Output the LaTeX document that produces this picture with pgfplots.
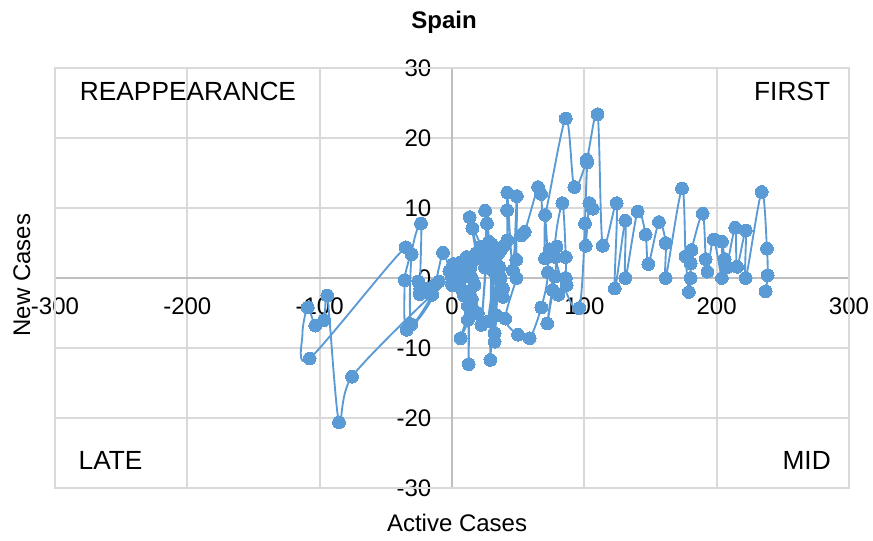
\documentclass[border=0pt]{standalone}
\usepackage{pgfplots}
\pgfplotsset{compat=1.18}
\usepackage{fontspec}
\setmainfont{Liberation Sans}
\definecolor{ser}{HTML}{5B9BD5}
\definecolor{gr}{HTML}{D9D9D9}
\definecolor{ax}{HTML}{BFBFBF}
\pgfplotsset{
  layers/mylayers/.define layer set={axis background,axis grid,axis ticks,axis lines,main,axis tick labels,axis descriptions,axis foreground}{},
  myplot/.style={color=ser,line width=1.4pt,smooth,tension=0.5,mark=*,mark size=4.8pt,mark options={fill=ser,draw=ser,line width=0pt}},
}
\pgfplotstableread{
x y
0 0
2 1
4 -1
1 2
5 0.5
8 1.5
3 -0.5
6 2.2
10 0.5
7 -1.5
9 -2.5
11 3
14 1.5
12 -2
15 0
13 -3
16 2.5
12 -4
14 -5.3
6.5 -8.6
12 -6
12.6 -12.3
13 -4
15 -3
16 -5
19.6 -5
17 -1
18 3.5
13.4 8.7
20 3
15.4 7.1
22 4.5
25 1.5
22.2 -6.7
26 3
25 9.6
27 2
26.4 7.8
30 2.5
28 5.2
31 1
29 -11.7
30 4.8
32.2 -9.1
33 3
32.2 -7.9
33.5 -5.3
35 3.5
27.2 -6.2
36 1.5
36.8 0
38.5 -1.5
38.5 -2.7
37 4
39.8 4.7
41.8 5.4
41.6 9.7
41.8 12.2
46 1.1
49 11.7
48.6 2.6
48.6 0
40.3 -5.8
49.9 -8.1
58.7 -8.6
67.5 -4.2
72.5 0.8
70.3 9
70.3 2.8
74 4.1
79 4.5
77.8 0.2
72 -6.5
76 -1.7
80.4 -2.4
86.6 -1
86 0
86 3
83.4 10.7
78 3
96.2 -4.3
102 16.5
100.5 7.8
101 4.6
103.8 10.7
106.3 9.9
}\maindata
\pgfplotstableread{
x y
52.5 6.1
55 6.6
65 13
67.3 12
70.3 9
86 22.8
92.4 13
101.8 16.9
110 23.4
113.9 4.6
124.4 10.7
123 -1.5
131 8.2
131 0
140.3 9.5
146.3 6.2
148.4 2
156.4 8
161.5 5
161.5 0
173.8 12.8
176.5 3.1
179 -2
180.4 0
180.4 2.1
181 4
189.4 9.2
191.7 2.7
193 0.9
197.7 5.5
204 0
204 5.2
206 2.7
207.5 1.5
214 7.2
215.4 1.6
222 6.8
222 0
234 12.3
238 4.2
238.5 0.4
237 -1.9
}\rightdata
\pgfplotstableread{
x y
-2 1
-6.8 3.6
-13 -1
-18 -1.5
-25.4 -0.5
-24.4 -2.3
-15 -2.4
-34.3 -7.4
-35.8 -0.3
-35 4.4
-107.6 -11.5
-113 -8
-109 -4.2
-103.3 -6.8
-96.7 -6
-94.2 -2.5
-85.4 -20.6
-75.6 -14.1
-15 -2.4
-30.7 -6.6
-30.5 3.4
-23.4 7.8
-24 -1.5
-20 -2
-10 -0.5
0 -1
}\leftdata
\begin{document}
\begin{tikzpicture}
\begin{axis}[
  at={(0pt,0pt)},anchor=south west,
  scale only axis,width=595.5pt,height=315pt,
  xmin=-300,xmax=300,ymin=-30,ymax=30,
  set layers=mylayers,
  axis lines=center,
  axis line style={draw=ax,line width=1.3pt,-},
  xtick={-300,-200,-100,0,100,200,300},
  ytick={-30,-20,-10,0,10,20,30},
  hide obscured x ticks=false,hide obscured y ticks=false,
  major tick length=0pt,
  grid=major,
  major grid style={draw=gr,line width=1.3pt},
  /pgf/number format/assume math mode=true,
  tick label style={font=\fontsize{18}{20}\selectfont,text=black},
  xticklabel style={yshift=-11pt},
  yticklabel style={xshift=-12pt},
  clip=false,
]
\draw[gr,line width=1.3pt] (axis cs:-300,-30) rectangle (axis cs:300,30);
\addplot[myplot] table[x=x,y=y] {\maindata};
\addplot[myplot] table[x=x,y=y] {\rightdata};
\addplot[myplot,mark indices={1,2,3,4,5,6,7,8,9,10,11,13,14,15,16,17,18,19,20,21,22,23,24,25,26}] table[x=x,y=y] {\leftdata};
\node[font=\fontsize{19.7}{22}\selectfont] at (axis cs:-199.5,26.6) {REAPPEARANCE};
\node[font=\fontsize{19.7}{22}\selectfont] at (axis cs:257,26.6) {FIRST};
\node[font=\fontsize{19.7}{22}\selectfont] at (axis cs:-258,-26.1) {LATE};
\node[font=\fontsize{19.7}{22}\selectfont] at (axis cs:268,-26.1) {MID};
\node[font=\fontsize{18}{20}\selectfont] at (axis cs:3.8,-35) {Active Cases};
\node[font=\fontsize{18}{20}\selectfont,rotate=90] at (axis cs:-325,0.4) {New Cases};
\node[font=\bfseries\fontsize{18}{20}\selectfont] at (axis cs:-6,36.6) {Spain};
\end{axis}
\pgfresetboundingbox
\useasboundingbox (-41.25pt,-39pt) rectangle (613.5pt,366pt);
\end{tikzpicture}
\end{document}
